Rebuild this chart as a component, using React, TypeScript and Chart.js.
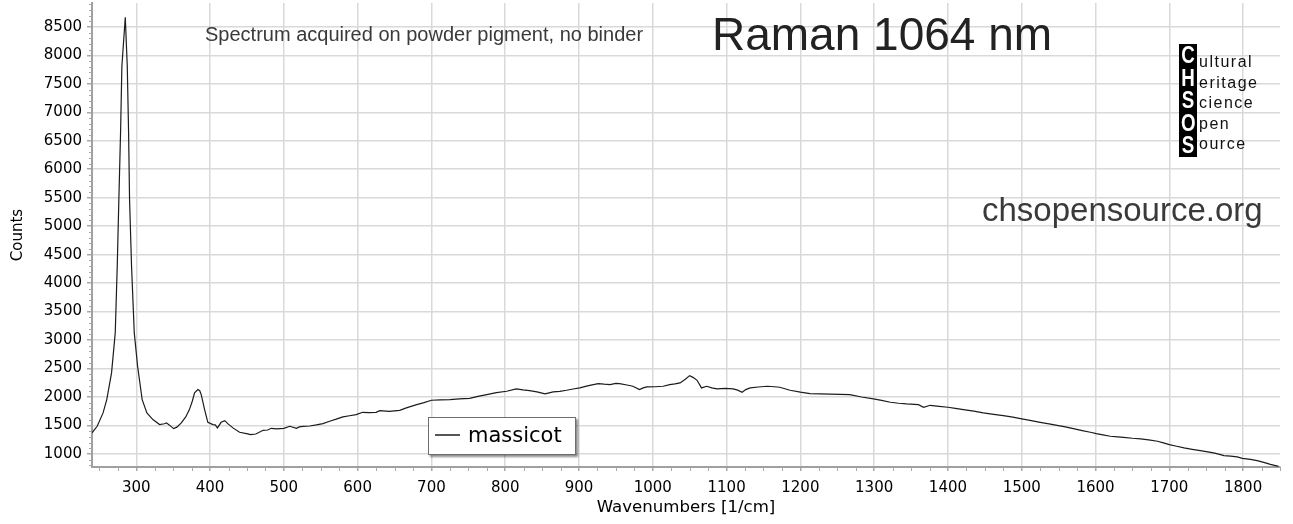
import React, { useEffect, useRef } from "react";
import { Chart, registerables } from "chart.js";

Chart.register(...registerables);

const seriesName = "massicot";

const wavenumbers = [
  240, 247, 255, 260, 266.5, 271.5, 274.2, 276.4, 278.7, 280.5, 285.1, 287.8, 289.6, 290.9, 293.6, 297.3,
  301.8, 308, 314.4, 322.5, 331.6, 338, 341, 345, 350.6, 355, 361, 367, 372, 376, 379, 383.5, 386, 388,
  392.6, 397, 404, 407, 410, 415, 420, 424, 431, 440, 451, 455, 462, 472, 478, 483, 490, 500, 508, 517,
  521, 526, 535, 544, 553, 562, 571, 580, 589, 598, 607, 615, 625, 630, 643, 657, 666, 680, 690, 700,
  712, 725, 738, 752, 763, 775, 788, 802, 815, 824, 833, 843, 854, 865, 874, 883, 892, 901, 913, 926,
  934, 942, 950, 955, 965, 973, 982, 987, 992, 1003, 1014, 1023, 1030, 1037, 1044, 1050, 1055, 1060,
  1066, 1073, 1080, 1087, 1098, 1109, 1115, 1121, 1126, 1132, 1143, 1155, 1165, 1172, 1186, 1200, 1213,
  1227, 1240, 1254, 1267, 1283, 1299, 1310, 1322, 1333, 1344, 1360, 1367, 1376, 1388, 1400, 1410, 1421,
  1435, 1448, 1462, 1475, 1488, 1500, 1513, 1525, 1537, 1548, 1559, 1570, 1582, 1593, 1601, 1610, 1620,
  1630, 1638, 1650, 1661, 1672, 1684, 1692, 1700, 1710, 1720, 1731, 1742, 1750, 1760, 1767, 1774, 1783,
  1792, 1799, 1810, 1819, 1828, 1837, 1848,
];

const counts = [
  1370, 1485, 1720, 1954, 2423, 3125, 4295, 5467, 6639, 7808, 8669, 7808, 6639, 5467, 4295, 3125,
  2539, 1954, 1720, 1603, 1515, 1530, 1545, 1505, 1444, 1470, 1544, 1650, 1778, 1930, 2071, 2130, 2110, 2042,
  1778, 1555, 1515, 1510, 1457, 1555, 1585, 1532, 1457, 1380, 1351, 1339, 1350, 1415, 1420, 1450, 1439, 1450, 1485, 1450,
  1475, 1485, 1490, 1509, 1532, 1573, 1610, 1650, 1670, 1690, 1731, 1725, 1731, 1760, 1748, 1766, 1808, 1866, 1900, 1942,
  1950, 1954, 1965, 1977, 2010, 2042, 2075, 2100, 2142, 2125, 2112, 2090, 2054, 2089, 2100, 2118, 2140, 2159, 2200, 2235,
  2225, 2218, 2240, 2235, 2210, 2188, 2130, 2160, 2177, 2180, 2188, 2218, 2230, 2247, 2310, 2375, 2340, 2293,
  2159, 2188, 2160, 2142, 2150, 2142, 2120, 2083, 2130, 2159, 2175, 2188, 2180, 2171, 2118, 2085, 2060,
  2054, 2050, 2045, 2040, 2000, 1966, 1940, 1907, 1890, 1878, 1866, 1819, 1854, 1835, 1819, 1800, 1778,
  1750, 1720, 1695, 1673, 1645, 1615, 1585, 1555, 1528, 1502, 1475, 1444, 1410, 1380, 1357, 1335, 1310,
  1300, 1292, 1275, 1263, 1245, 1222, 1195, 1163, 1135, 1105, 1080, 1058, 1040, 1018, 995, 970, 960,
  947, 923, 905, 882, 850, 817, 782,
];

const xTicks = [300, 400, 500, 600, 700, 800, 900, 1000, 1100, 1200, 1300, 1400, 1500, 1600, 1700, 1800];
const yTicks = [1000, 1500, 2000, 2500, 3000, 3500, 4000, 4500, 5000, 5500, 6000, 6500, 7000, 7500, 8000, 8500];
const xMin = 240;
const xMax = 1850;
const yMin = 770;
const yMax = 8920;

const xTitle = "Wavenumbers [1/cm]";
const yTitle = "Counts";
const subtitle = "Spectrum acquired on powder pigment, no binder";
const mainTitle = "Raman 1064 nm";
const website = "chsopensource.org";
const logoLetters = ["C", "H", "S", "O", "S"];
const logoWords = ["ultural", "eritage", "cience", "pen", "ource"];

const AXIS_FONT = "'DejaVu Sans', Verdana, sans-serif";
const TEXT_FONT = "'Liberation Sans', Arial, sans-serif";

const minorTicks = {
  id: "minorTicks",
  afterDraw(chart: any) {
    const { ctx, chartArea, scales } = chart;
    const xs = scales.x;
    const ys = scales.y;
    ctx.save();
    ctx.strokeStyle = "#a8a8a8";
    ctx.lineWidth = 1;
    for (let v = 250; v <= xMax; v += 25) {
      if (v % 100 === 0) continue;
      const px = Math.round(xs.getPixelForValue(v)) + 0.5;
      ctx.beginPath();
      ctx.moveTo(px, chartArea.bottom);
      ctx.lineTo(px, chartArea.bottom + 4);
      ctx.stroke();
    }
    for (let v = 800; v <= yMax; v += 100) {
      if (v % 500 === 0) continue;
      const py = Math.round(ys.getPixelForValue(v)) + 0.5;
      ctx.beginPath();
      ctx.moveTo(chartArea.left - 3, py);
      ctx.lineTo(chartArea.left, py);
      ctx.stroke();
    }
    ctx.restore();
  },
};

export default function App() {
  const ref = useRef<HTMLCanvasElement | null>(null);

  useEffect(() => {
    if (!ref.current) return;
    const chart = new Chart(ref.current, {
      type: "line",
      data: {
        datasets: [
          {
            label: seriesName,
            data: wavenumbers.map((w, i) => ({ x: w, y: counts[i] })),
            borderColor: "#1c1c1c",
            borderWidth: 1.2,
            pointRadius: 0,
            tension: 0,
            fill: false,
          },
        ],
      },
      options: {
        animation: false,
        responsive: false,
        devicePixelRatio: 1,
        layout: { padding: { top: 3, right: 13, left: 0, bottom: 0 } },
        plugins: { legend: { display: false }, tooltip: { enabled: false }, title: { display: false } },
        scales: {
          x: {
            type: "linear",
            min: xMin,
            max: xMax,
            bounds: "data",
            afterBuildTicks: (s: any) => {
              s.ticks = xTicks.map((v) => ({ value: v }));
            },
            afterFit: (s: any) => {
              s.height = 57;
              s.paddingLeft = 0;
              s.paddingRight = 0;
            },
            ticks: {
              autoSkip: false,
              maxRotation: 0,
              padding: 8,
              color: "#000",
              font: { family: AXIS_FONT, size: 15 },
              callback: (v: any) => String(v),
            },
            grid: { color: "#d9d9d9", lineWidth: 1.5, tickLength: 4, tickColor: "#a8a8a8" },
            border: { color: "#a0a0a0", width: 2 },
            title: {
              display: true,
              text: xTitle,
              color: "#000",
              font: { family: AXIS_FONT, size: 16.6 },
              padding: { top: 0, bottom: 6 },
            },
          },
          y: {
            type: "linear",
            min: yMin,
            max: yMax,
            bounds: "data",
            afterBuildTicks: (s: any) => {
              s.ticks = yTicks.map((v) => ({ value: v }));
            },
            afterFit: (s: any) => {
              s.width = 92;
              s.paddingTop = 0;
              s.paddingBottom = 0;
            },
            ticks: {
              autoSkip: false,
              padding: 5,
              color: "#000",
              font: { family: AXIS_FONT, size: 15 },
              callback: (v: any) => String(v),
            },
            grid: { color: "#d9d9d9", lineWidth: 1.5, tickLength: 5, tickColor: "#a8a8a8" },
            border: { color: "#a0a0a0", width: 2 },
            title: {
              display: true,
              text: yTitle,
              color: "#000",
              font: { family: AXIS_FONT, size: 15 },
              padding: { top: 9, bottom: 0 },
            },
          },
        },
      },
      plugins: [minorTicks],
    } as any);
    return () => chart.destroy();
  }, []);

  const abs = (s: React.CSSProperties): React.CSSProperties => ({ position: "absolute", whiteSpace: "nowrap", ...s });

  return (
    <div style={{ position: "fixed", left: 0, top: 0, width: 1293, height: 524, background: "#fff", overflow: "hidden" }}>
      <canvas ref={ref} width={1293} height={524} style={{ position: "absolute", left: 0, top: 0, width: 1293, height: 524 }} />
      <div style={abs({ left: 205, top: 24, font: `20px ${TEXT_FONT}`, lineHeight: "20px", color: "#3a3a3a" })}>{subtitle}</div>
      <div style={abs({ left: 712, top: 11, font: `46px ${TEXT_FONT}`, lineHeight: "46px", color: "#222" })}>{mainTitle}</div>
      <div style={abs({ left: 982, top: 193, font: `33px ${TEXT_FONT}`, lineHeight: "33px", color: "#3a3a3a" })}>{website}</div>
      <div style={abs({ left: 1179, top: 44, width: 18, height: 113, background: "#000" })} />
      {logoLetters.map((l, i) => (
        <div
          key={"L" + i}
          style={abs({
            left: 1179,
            width: 18,
            top: 43 + i * 22.6,
            textAlign: "center",
            font: `bold 24px ${TEXT_FONT}`,
            lineHeight: "24px",
            color: "#fff",
            transform: "scaleX(0.78)",
            transformOrigin: "center",
          })}
        >
          {l}
        </div>
      ))}
      {logoWords.map((w, i) => (
        <div
          key={"W" + i}
          style={abs({
            left: 1199,
            top: 53 + i * 20.6,
            font: `16px ${TEXT_FONT}`,
            lineHeight: "17px",
            letterSpacing: "1.5px",
            color: "#111",
          })}
        >
          {w}
        </div>
      ))}
      <div
        style={abs({
          left: 428,
          top: 417,
          width: 146,
          height: 36,
          border: "1px solid #6e6e6e",
          background: "#fff",
          boxShadow: "2px 2px 2px rgba(0,0,0,0.45)",
        })}
      />
      <div style={abs({ left: 435, top: 434, width: 25, height: 1.5, background: "#555" })} />
      <div style={abs({ left: 468, top: 423, font: `21px ${AXIS_FONT}`, lineHeight: "25px", color: "#000" })}>{seriesName}</div>
    </div>
  );
}
